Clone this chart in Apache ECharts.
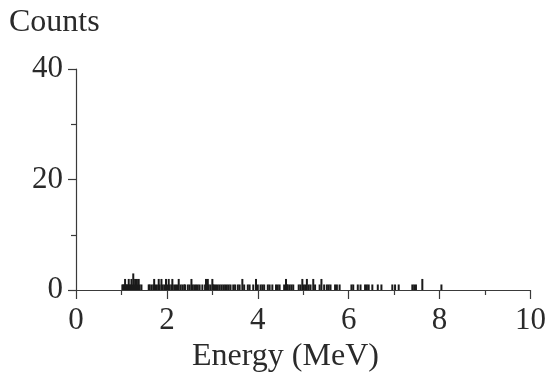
<!DOCTYPE html>
<html>
<head>
<meta charset="utf-8">
<script src="https://cdn.jsdelivr.net/npm/echarts@6/dist/echarts.min.js"></script>
<style>
  html, body { margin: 0; padding: 0; background: #fff; }
  #chart { width: 549px; height: 381px; }
</style>
</head>
<body>
<div id="chart"></div>
<script>
// energy bins (MeV) and counts
const energies = [
    1.02, 1.04, 1.06, 1.08, 1.10, 1.12, 1.14, 1.16, 1.18, 1.20, 1.22, 1.24, 1.26, 1.28, 1.30, 1.32, 1.34, 1.36, 1.38, 1.40, 1.44,
    1.60, 1.62, 1.66, 1.70, 1.72, 1.74, 1.78, 1.82, 1.84, 1.88, 1.90, 1.94, 1.98, 2.02, 2.04, 2.06, 2.10, 2.12, 2.16, 2.20, 2.24, 2.26, 2.30, 2.34, 2.38, 2.40, 2.46, 2.50, 2.54, 2.56,
    2.60, 2.64, 2.68, 2.72, 2.78, 2.84, 2.86, 2.88, 2.90, 2.92, 2.96, 3.00, 3.02, 3.04, 3.08, 3.12, 3.16, 3.20, 3.24, 3.28, 3.32, 3.36, 3.40, 3.46, 3.50, 3.56, 3.60, 3.66, 3.70, 3.78, 3.82, 3.90, 3.96, 4.00, 4.06, 4.10,
    4.14, 4.22, 4.26, 4.32, 4.40, 4.44, 4.48, 4.58, 4.62, 4.64, 4.66, 4.70, 4.74, 4.78, 4.90, 4.94, 4.98, 5.00, 5.04, 5.08, 5.12, 5.16, 5.22, 5.26, 5.36, 5.40, 5.46, 5.52, 5.56, 5.60,
    5.70, 5.74, 5.80, 6.06, 6.10, 6.20, 6.26, 6.36, 6.40, 6.44, 6.52, 6.64, 6.72, 6.96, 7.02, 7.10,
    7.40, 7.44, 7.48, 7.62, 8.04
];
const counts = [
    1, 1, 1, 2, 1, 1, 1, 2, 1, 1, 2, 1, 3, 1, 2, 1, 2, 1, 2, 1, 1,
    1, 1, 1, 1, 2, 1, 1, 2, 1, 2, 1, 1, 2, 1, 2, 1, 1, 2, 1, 1, 1, 2, 1, 1, 1, 1, 1, 1, 2, 1,
    1, 1, 1, 1, 1, 1, 2, 1, 2, 1, 1, 2, 1, 1, 1, 1, 1, 1, 1, 1, 1, 1, 1, 1, 1, 1, 1, 2, 1, 1, 1, 1, 2, 1, 1, 1,
    1, 1, 1, 1, 1, 1, 1, 1, 2, 1, 1, 1, 1, 1, 1, 1, 2, 1, 1, 2, 1, 1, 2, 1, 1, 2, 1, 1, 1, 1,
    1, 1, 1, 1, 1, 1, 1, 1, 1, 1, 1, 1, 1, 1, 1, 1,
    1, 1, 1, 2, 1
];

const font = '"Liberation Serif", "DejaVu Serif", serif';
const axisColor = '#3a3a3a';
const textColor = '#2a2a2a';

const chart = echarts.init(document.getElementById('chart'), null, { renderer: 'canvas' });

chart.setOption({
    animation: false,
    backgroundColor: '#ffffff',
    grid: {
        left: 76,
        right: 17,
        top: 69,
        bottom: 91
    },
    xAxis: {
        type: 'value',
        min: 0,
        max: 10,
        interval: 2,
        axisLine: { lineStyle: { color: axisColor, width: 1.2 } },
        axisTick: { length: 9, lineStyle: { color: axisColor, width: 1.2 } },
        minorTick: { show: true, splitNumber: 2, length: 5, lineStyle: { color: axisColor, width: 1.2 } },
        splitLine: { show: false },
        axisLabel: { fontFamily: font, fontSize: 31, color: textColor, margin: 15 }
    },
    yAxis: {
        type: 'value',
        min: 0,
        max: 40,
        interval: 20,
        axisLine: { show: true, lineStyle: { color: axisColor, width: 1.2 } },
        axisTick: { show: true, length: 8, lineStyle: { color: axisColor, width: 1.2 } },
        minorTick: { show: true, splitNumber: 2, length: 5, lineStyle: { color: axisColor, width: 1.2 } },
        splitLine: { show: false },
        axisLabel: { fontFamily: font, fontSize: 31, color: textColor, margin: 13 }
    },
    graphic: [{
        type: 'text',
        left: 9,
        top: 7,
        style: { text: 'Counts', font: '32px ' + font, fill: textColor }
    }, {
        type: 'text',
        left: 192,
        top: 341,
        style: { text: 'Energy (MeV)', font: '32px ' + font, fill: textColor }
    }],
    series: [{
        type: 'bar',
        barWidth: 2,
        itemStyle: { color: '#1a1a1a' },
        data: energies.map((e, i) => [e, counts[i]])
    }]
});
</script>
</body>
</html>
